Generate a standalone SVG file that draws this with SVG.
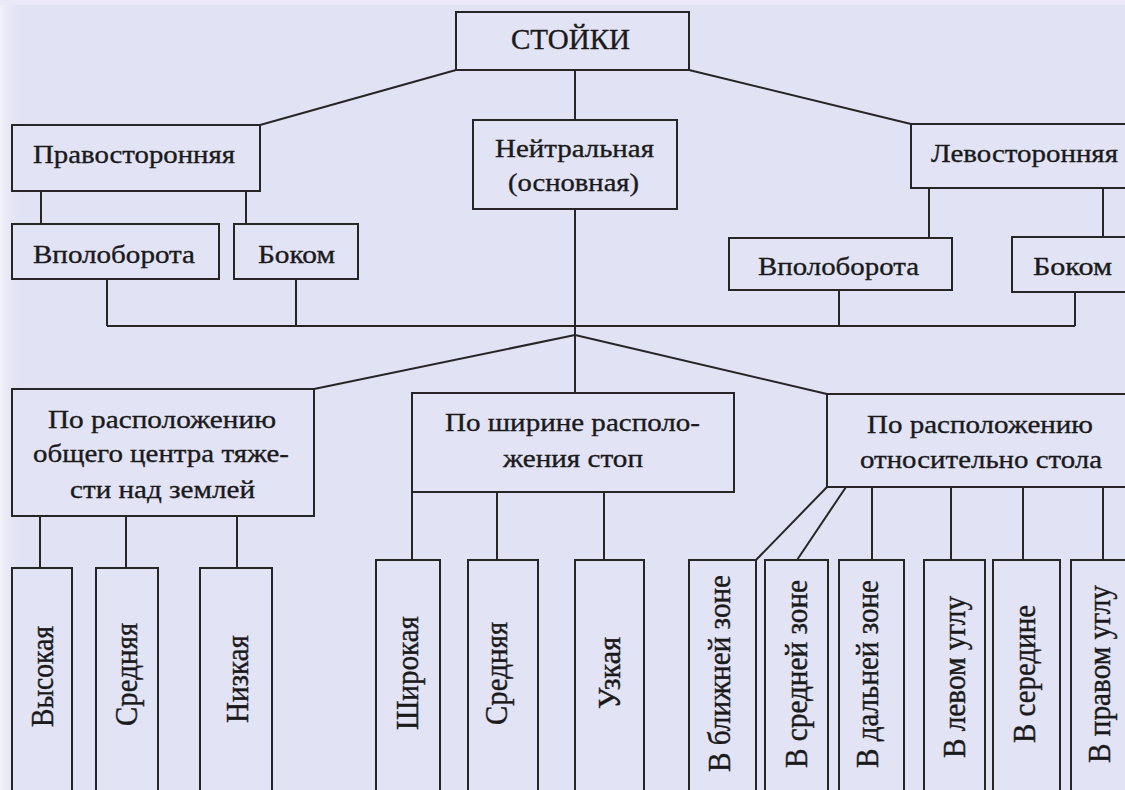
<svg xmlns="http://www.w3.org/2000/svg" width="1125" height="790" viewBox="0 0 1125 790">
<defs>
<linearGradient id="lg" x1="0" y1="0" x2="1" y2="0">
<stop offset="0" stop-color="#F3F3FA"/>
<stop offset="1" stop-color="#E2E2F5" stop-opacity="0"/>
</linearGradient>
<style>
.bx{fill:#E3E3F6;stroke:#262626;stroke-width:2}
.ln{stroke:#262626;stroke-width:2;fill:none}
text{font-family:'Liberation Serif','Times New Roman',serif;font-size:26px;fill:#1a1a1a;stroke:#1a1a1a;stroke-width:0.35}
</style>
</defs>
<rect x="0" y="0" width="1125" height="790" fill="#E2E2F5"/>
<rect x="0" y="0" width="22" height="790" fill="url(#lg)"/>
<rect x="0" y="0" width="1125" height="5" fill="#E9E9F7"/>

<g id="connectors">
<path class="ln" d="M456,70 L260,125"/>
<path class="ln" d="M689,70 L911,124"/>
<path class="ln" d="M575,70 V120"/>
<path class="ln" d="M41,191 V224"/>
<path class="ln" d="M246,191 V224"/>
<path class="ln" d="M929,188 V238"/>
<path class="ln" d="M1103,188 V237"/>
<path class="ln" d="M107,279 V326"/>
<path class="ln" d="M296,279 V326"/>
<path class="ln" d="M839,290 V326"/>
<path class="ln" d="M1075,292 V326"/>
<path class="ln" d="M107,326 H1075"/>
<path class="ln" d="M575,209 V393"/>
<path class="ln" d="M575,335 L314,389"/>
<path class="ln" d="M575,335 L827,394"/>
<path class="ln" d="M40,516 V568"/>
<path class="ln" d="M126,516 V568"/>
<path class="ln" d="M237,516 V568"/>
<path class="ln" d="M412,492 V560"/>
<path class="ln" d="M497,492 V560"/>
<path class="ln" d="M604,492 V560"/>
<path class="ln" d="M827,487 L756,560"/>
<path class="ln" d="M846,487 L797,560"/>
<path class="ln" d="M872,487 V560"/>
<path class="ln" d="M951,487 V560"/>
<path class="ln" d="M1023,487 V560"/>
<path class="ln" d="M1103,487 V560"/>
</g>

<g id="n-stoyki"><rect class="bx" x="456" y="12" width="233" height="58"/><text style="font-size:29px" x="511" y="49" textLength="119" lengthAdjust="spacingAndGlyphs">СТОЙКИ</text></g>
<g id="n-pravo"><rect class="bx" x="12" y="125" width="248" height="66"/><text x="33" y="163" textLength="202" lengthAdjust="spacingAndGlyphs">Правосторонняя</text></g>
<g id="n-neytr"><rect class="bx" x="473" y="120" width="204" height="89"/><text x="495" y="157" textLength="159" lengthAdjust="spacingAndGlyphs">Нейтральная</text><text x="508" y="191" textLength="131" lengthAdjust="spacingAndGlyphs">(основная)</text></g>
<g id="n-levo"><rect class="bx" x="911" y="124" width="230" height="64"/><text x="931" y="162" textLength="187" lengthAdjust="spacingAndGlyphs">Левосторонняя</text></g>
<g id="n-vpol-l"><rect class="bx" x="12" y="224" width="207" height="55"/><text x="33" y="263" textLength="162" lengthAdjust="spacingAndGlyphs">Вполоборота</text></g>
<g id="n-bokom-l"><rect class="bx" x="234" y="224" width="124" height="55"/><text x="258" y="263" textLength="77" lengthAdjust="spacingAndGlyphs">Боком</text></g>
<g id="n-vpol-r"><rect class="bx" x="729" y="238" width="223" height="52"/><text x="758" y="275" textLength="161" lengthAdjust="spacingAndGlyphs">Вполоборота</text></g>
<g id="n-bokom-r"><rect class="bx" x="1012" y="237" width="130" height="55"/><text x="1033" y="275" textLength="79" lengthAdjust="spacingAndGlyphs">Боком</text></g>

<g id="n-cat1"><rect class="bx" x="12" y="389" width="302" height="127"/>
<text x="48" y="428" textLength="228" lengthAdjust="spacingAndGlyphs">По расположению</text>
<text x="33" y="462" textLength="256" lengthAdjust="spacingAndGlyphs">общего центра тяже-</text>
<text x="70" y="498" textLength="185" lengthAdjust="spacingAndGlyphs">сти над землей</text></g>
<g id="n-cat2"><rect class="bx" x="412" y="393" width="322" height="99"/>
<text x="445" y="431" textLength="255" lengthAdjust="spacingAndGlyphs">По ширине располо-</text>
<text x="503" y="467" textLength="140" lengthAdjust="spacingAndGlyphs">жения стоп</text></g>
<g id="n-cat3"><rect class="bx" x="827" y="394" width="310" height="93"/>
<text x="867" y="433" textLength="226" lengthAdjust="spacingAndGlyphs">По расположению</text>
<text x="860" y="468" textLength="242" lengthAdjust="spacingAndGlyphs">относительно стола</text></g>

<g id="n-vysokaya"><rect class="bx" x="12" y="568" width="60" height="240"/><text transform="translate(53,727) rotate(-90) scale(1,1.2)" textLength="101" lengthAdjust="spacingAndGlyphs">Высокая</text></g>
<g id="n-srednyaya1"><rect class="bx" x="96" y="568" width="62" height="240"/><text transform="translate(137,726) rotate(-90) scale(1,1.2)" textLength="103" lengthAdjust="spacingAndGlyphs">Средняя</text></g>
<g id="n-nizkaya"><rect class="bx" x="200" y="568" width="72" height="240"/><text transform="translate(248,723) rotate(-90) scale(1,1.2)" textLength="88" lengthAdjust="spacingAndGlyphs">Низкая</text></g>
<g id="n-shirokaya"><rect class="bx" x="376" y="560" width="64" height="248"/><text transform="translate(418,730) rotate(-90) scale(1,1.2)" textLength="114" lengthAdjust="spacingAndGlyphs">Широкая</text></g>
<g id="n-srednyaya2"><rect class="bx" x="468" y="560" width="70" height="248"/><text transform="translate(507,725) rotate(-90) scale(1,1.2)" textLength="103" lengthAdjust="spacingAndGlyphs">Средняя</text></g>
<g id="n-uzkaya"><rect class="bx" x="575" y="560" width="69" height="248"/><text transform="translate(620,709) rotate(-90) scale(1,1.2)" textLength="72" lengthAdjust="spacingAndGlyphs">Узкая</text></g>
<g id="n-blizh"><rect class="bx" x="689" y="560" width="67" height="248"/><text transform="translate(730,772) rotate(-90) scale(1,1.2)" textLength="197" lengthAdjust="spacingAndGlyphs">В ближней зоне</text></g>
<g id="n-sredn"><rect class="bx" x="765" y="560" width="63" height="248"/><text transform="translate(807,768) rotate(-90) scale(1,1.2)" textLength="188" lengthAdjust="spacingAndGlyphs">В средней зоне</text></g>
<g id="n-daln"><rect class="bx" x="839" y="560" width="65" height="248"/><text transform="translate(878,768) rotate(-90) scale(1,1.2)" textLength="188" lengthAdjust="spacingAndGlyphs">В дальней зоне</text></g>
<g id="n-levugol"><rect class="bx" x="924" y="560" width="61" height="248"/><text transform="translate(965,758) rotate(-90) scale(1,1.2)" textLength="162" lengthAdjust="spacingAndGlyphs">В левом углу</text></g>
<g id="n-seredina"><rect class="bx" x="993" y="560" width="67" height="248"/><text transform="translate(1035,743) rotate(-90) scale(1,1.2)" textLength="138" lengthAdjust="spacingAndGlyphs">В середине</text></g>
<g id="n-pravugol"><rect class="bx" x="1071" y="560" width="70" height="248"/><text transform="translate(1110,763) rotate(-90) scale(1,1.2)" textLength="178" lengthAdjust="spacingAndGlyphs">В правом углу</text></g>
</svg>
